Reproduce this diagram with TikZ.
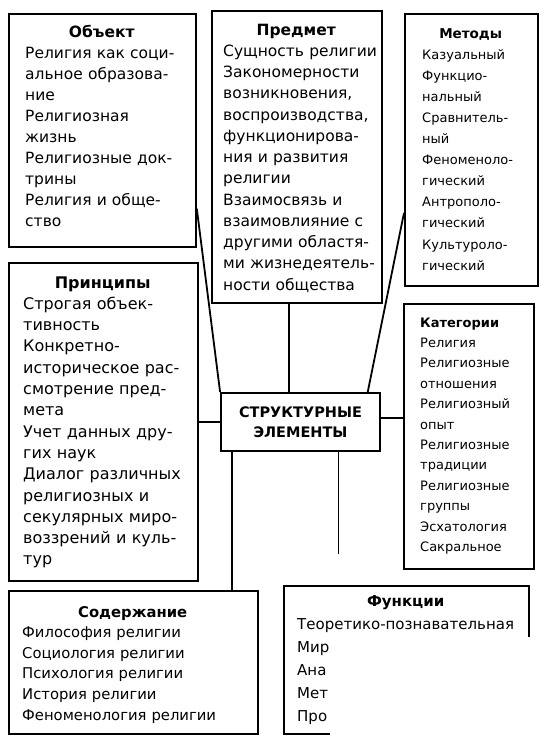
\documentclass[tikz,border=0pt]{standalone}
\usepackage{fontspec}
\setmainfont{DejaVu Sans}
\usetikzlibrary{calc}
\begin{document}
\begin{tikzpicture}[x=1pt,y=-1pt,
  box/.style={draw=black, line width=1.8pt, inner sep=0pt, anchor=north west},
  txt/.style={anchor=base west, inner sep=0pt, align=left, text width=300pt},
  link/.style={draw=black, line width=1.8pt}]
\useasboundingbox (0,0) rectangle (546,753);
\fill[white] (0,0) rectangle (546,753);

% boxes
\node[box, minimum width=187pt, minimum height=233pt] (obj) at (8,13) {};
\node[box, minimum width=170pt, minimum height=292pt] (pred) at (211,10) {};
\node[box, minimum width=133pt, minimum height=272pt] (met) at (404,13) {};
\node[box, minimum width=189pt, minimum height=318pt] (prin) at (8,262) {};
\node[box, minimum width=130pt, minimum height=265pt] (kat) at (403,303) {};
\node[box, minimum width=249pt, minimum height=143pt] (soder) at (8,590) {};
\node[box, minimum width=245pt, minimum height=148pt] (func) at (283,585) {};
\node[draw=black, line width=1.8pt, inner sep=0pt, minimum width=159pt, minimum height=58pt,
  align=center, font=\fontsize{14.5}{20}\selectfont\bfseries] (core) at (300.5,422)
  {СТРУКТУРНЫЕ\\ЭЛЕМЕНТЫ};

% connectors
\draw[link] ($(obj.north east)!0.833!(obj.south east)$) -- (core.north west);
\draw[link] ($(met.north west)!0.73!(met.south west)$) -- ($(core.north west)!0.918!(core.north east)$);
\draw[link] ($(pred.south west)!0.453!(pred.south east)$) coordinate (pa) -- (pa |- core.north);
\draw[link] (core.west) -- (core.west -| prin.east);
\draw[link] ($(core.north east)!0.43!(core.south east)$) coordinate (ka) -- (ka -| kat.west);
\draw[link] ($(core.south west)!0.075!(core.south east)$) coordinate (sa) -- (sa |- soder.north);
\draw[link] ($(core.south west)!0.736!(core.south east)$) coordinate (fa) -- ($(fa)+(0,102)$) coordinate (fend);

% texts
\node[txt, font=\fontsize{15.5}{21}\selectfont] (objT) at (25,37)
 {\makebox[153pt]{\bfseries Объект}\\Религия как соци-\\альное образова-\\ние\\Религиозная\\жизнь\\Религиозные док-\\трины\\Религия и обще-\\ство};
\node[txt, font=\fontsize{15.5}{21.25}\selectfont] (predT) at (223,35)
 {\makebox[146pt]{\bfseries Предмет}\\Сущность религии\\Закономерности\\возникновения,\\воспроизводства,\\функционирова-\\ния и развития\\религии\\Взаимосвязь и\\взаимовлияние с\\другими областя-\\ми жизнедеятель-\\ности общества};
\node[txt, font=\fontsize{13}{21.1}\selectfont] (metT) at (422,38)
 {\makebox[97pt]{\bfseries\fontsize{13.5}{21.1}\selectfont Методы}\\Казуальный\\Функцио-\\нальный\\Сравнитель-\\ный\\Феноменоло-\\гический\\Антрополо-\\гический\\Культуроло-\\гический};
\node[txt, font=\fontsize{16}{21.3}\selectfont] (prinT) at (23,288)
 {\makebox[159pt]{\bfseries Принципы}\\Строгая объек-\\тивность\\Конкретно-\\историческое рас-\\смотрение пред-\\мета\\Учет данных дру-\\гих наук\\Диалог различных\\религиозных и\\секулярных миро-\\воззрений и куль-\\тур};
\node[txt, font=\fontsize{13}{20.4}\selectfont] (katT) at (420,327)
 {{\bfseries Категории}\\Религия\\Религиозные\\отношения\\Религиозный\\опыт\\Религиозные\\традиции\\Религиозные\\группы\\Эсхатология\\Сакральное};
\node[txt, font=\fontsize{14.8}{20.6}\selectfont] (soderT) at (22,617)
 {\makebox[221pt]{\bfseries Содержание}\\Философия религии\\Социология религии\\Психология религии\\История религии\\Феноменология религии};
\node[txt, font=\fontsize{15}{23}\selectfont] (funcT) at (297,606)
 {\makebox[217pt]{\bfseries Функции}\\Теоретико-познавательная\\Мир\\Ана\\Мет\\Про};

% white patch covering the lower right corner
\fill[white] (330,637) rectangle (546,753);
\end{tikzpicture}
\end{document}
